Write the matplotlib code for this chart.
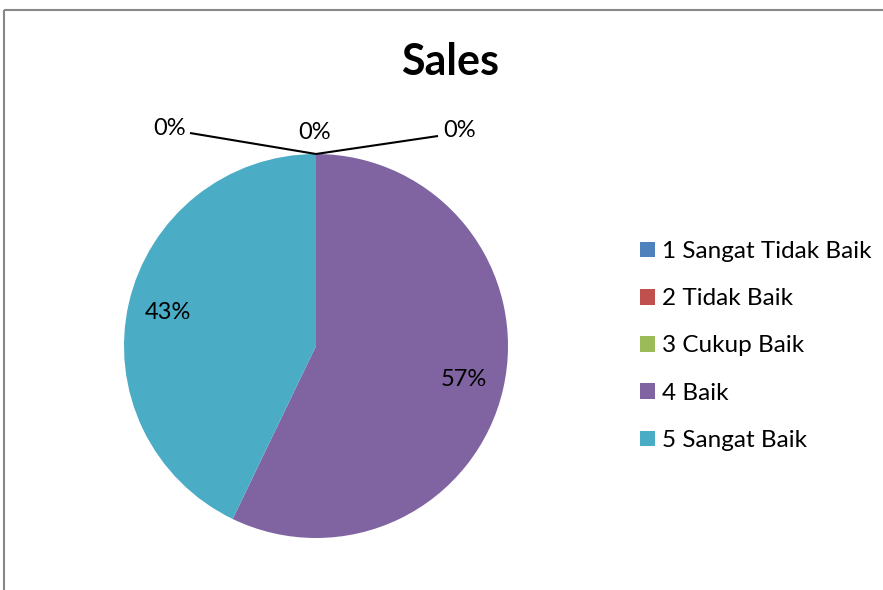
import matplotlib.pyplot as plt
from matplotlib.patches import Rectangle

# data
categories = ["1 Sangat Tidak Baik", "2 Tidak Baik", "3 Cukup Baik", "4 Baik", "5 Sangat Baik"]
values = [0, 0, 0, 4, 3]
colors = ["#4F81BD", "#C0504D", "#9BBB59", "#8064A2", "#4BACC6"]
title = "Sales"

plt.rcParams['font.family'] = ['Lato', 'DejaVu Sans']

W, H = 883, 590
fig = plt.figure(figsize=(W / 100, H / 100), dpi=100)

# pie center / radius in pixels, axes covers the whole figure
cx, cy, r = 316, 346, 192
ax = fig.add_axes([0, 0, 1, 1])

wedges, texts, autotexts = ax.pie(
    values, colors=colors, startangle=90, counterclock=False,
    autopct=lambda p: f"{p:.0f}%" if p > 0 else "",
    pctdistance=0.79, radius=1.0,
    wedgeprops=dict(linewidth=0),
    textprops=dict(fontsize=17, color="black"))
ax.set_xlim(-cx / r, (W - cx) / r)
ax.set_ylim((cy - H) / r, cy / r)
ax.axis("off")


def px(x, y):
    # figure pixels -> data coords
    return ((x - cx) / r, (cy - y) / r)


# labels of the empty slices, with leader lines to the top of the pie
top = (0, 1)
zero_labels = [((170, 129), (190, 133)),
               ((315, 133), None),
               ((460, 131), (438, 136))]
for pos, line_end in zero_labels:
    ax.text(*px(*pos), "0%", fontsize=17, ha="center", va="center")
    if line_end is not None:
        lx, ly = px(*line_end)
        ax.plot([lx, top[0]], [ly, top[1]], color="black", lw=1.5,
                solid_capstyle="butt")

# legend
leg = ax.legend(wedges, categories, loc="center left",
                bbox_to_anchor=(640 / W, 1 - 346 / H), bbox_transform=fig.transFigure,
                frameon=False, fontsize=17.5, handlelength=0.62, handleheight=0.62,
                handletextpad=0.3, labelspacing=1.08, borderpad=0, borderaxespad=0)

fig.text(450 / W, 1 - 62 / H, title, fontsize=31, fontweight="bold",
         ha="center", va="center")

# chart frame (cropped at right and bottom)
fig.patches.append(Rectangle((4, H - 10), W + 20, -(H + 20), transform=None,
                             fill=False, edgecolor="#878787", lw=1.5))

fig.savefig("out.png", dpi=100)
